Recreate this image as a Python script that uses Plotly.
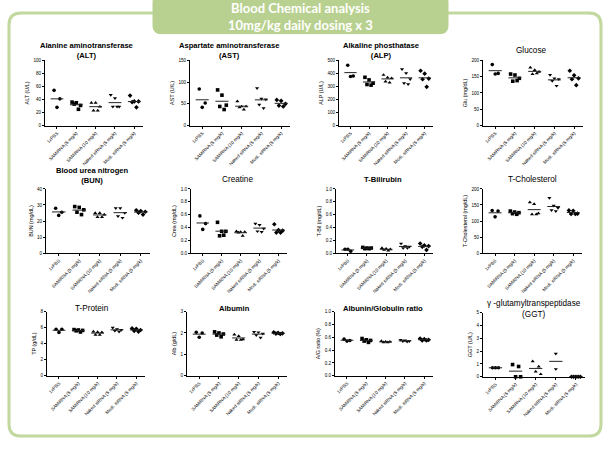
import plotly.graph_objects as go
import numpy as np

W, H = 610, 449

groups = ["1xPBS", "SAMiRNA (5 mg/k)", "SAMiRNA (10 mg/k)", "Naked siRNA (5 mg/k)", "Modi. siRNA (5 mg/k)"]

alt = [[54, 41, 28], [36, 35, 31, 33, 25], [35, 35, 29, 23, 23], [47, 42, 29, 29, 29], [46, 37, 37, 36, 28]]
ast = [[84, 52, 42], [82, 70, 47, 44, 37], [56, 44, 44, 42, 37], [86, 62, 60, 48, 40], [59, 57, 50, 46, 44]]
alp = [[462, 380, 376], [370, 350, 325, 315, 310], [388, 368, 363, 338, 330], [432, 401, 355, 325, 317], [420, 398, 360, 355, 297]]
glu = [[187, 160, 158], [158, 155, 145, 136, 138], [178, 170, 165, 158, 160], [155, 145, 142, 137, 122], [168, 154, 145, 142, 124]]
bun = [[28, 25.5, 23.5], [29, 28.5, 27, 25.5, 24], [25, 25, 24, 22.5, 22.5], [28, 28, 25, 23, 22], [26.7, 26.2, 25.8, 25.2, 24]]
crea = [[0.58, 0.46, 0.37], [0.48, 0.34, 0.34, 0.27, 0.28], [0.34, 0.33, 0.33, 0.32, 0.27], [0.46, 0.44, 0.38, 0.34, 0.33], [0.45, 0.36, 0.35, 0.32, 0.32]]
tbil = [[0.06, 0.03, 0.06], [0.09, 0.08, 0.08, 0.07, 0.07], [0.08, 0.07, 0.06, 0.05, 0.04], [0.15, 0.11, 0.10, 0.08, 0.08], [0.15, 0.12, 0.11, 0.10, 0.05]]
tchol = [[133, 131, 113], [131, 128, 126, 123, 121], [158, 153, 124, 121, 121], [172, 148, 141, 134, 131], [133, 132, 123, 122, 122]]
tp = [[5.8, 5.8, 5.4], [5.75, 5.7, 5.65, 5.6, 5.45], [5.5, 5.45, 5.4, 5.1, 5.1], [6.0, 5.8, 5.7, 5.6, 5.5], [5.9, 5.85, 5.7, 5.6, 5.5]]
alb = [[2.03, 2.0, 1.8], [2.05, 2.0, 1.95, 1.9, 1.82], [1.92, 1.85, 1.7, 1.68, 1.68], [2.05, 2.03, 1.97, 1.9, 1.78], [2.03, 2.0, 1.98, 1.97, 1.95]]
agr = [[0.57, 0.55, 0.54], [0.58, 0.56, 0.55, 0.54, 0.52], [0.54, 0.53, 0.53, 0.52, 0.52], [0.56, 0.55, 0.54, 0.54, 0.53], [0.58, 0.57, 0.56, 0.55, 0.55]]
ggt = [[0.7, 0.7, 0.7], [0.95, 0.8, 0, 0], [1.2, 0.8, 0.4, 0.2], [1.8, 0.6], [0, 0, 0, 0, 0]]

titles = ["Alanine aminotransferase<br>(ALT)", "Aspartate aminotransferase<br>(AST)", "Alkaline phosthatase<br>(ALP)", "Glucose",
          "Blood urea nitrogen<br>(BUN)", "Creatine", "T-Bilirubin", "T-Cholesterol",
          "T-Protein", "Albumin", "Albunin/Globulin ratio", "γ -glutamyltranspeptidase<br>(GGT)"]
ylabels = ["ALT (U/L)", "AST (U/L)", "ALP (U/L)", "Glu (mg/dL)",
           "BUN (mg/dL)", "Crea (mg/dL)", "T-Bil (mg/dL)", "T-Cholesterol (mg/dL)",
           "TP (g/dL)", "Alb (g/dL)", "A/G ratio (%)", "GGT (U/L)"]
datasets = [alt, ast, alp, glu, bun, crea, tbil, tchol, tp, alb, agr, ggt]
yranges = [100, 150, 500, 200, 40, 1.0, 1.0, 200, 8, 3, 1.0, 5]
dticks = [20, 50, 100, 50, 10, 0.2, 0.2, 50, 2, 1, 0.2, 1]
tfmts = ["d", "d", "d", "d", "d", ".1f", ".1f", "d", "d", "d", ".1f", "d"]
bold = [True, True, True, False, True, False, True, False, False, True, True, False]

# layout in reference pixels: (x0, x1, ybottom, ytop, title_x, title_y)
geo = [
    (45, 143, 125, 59, 86, 49), (190, 290, 125, 59, 229, 49), (339, 433, 125, 59, 381, 49), (483, 583, 125, 59, 531, 49),
    (46, 150, 254, 189, 92, 175), (191, 287, 254, 189, 237, 180), (336, 433, 254, 189, 383, 180), (483, 582, 254, 189, 532, 180),
    (47, 145, 378, 313, 92, 310), (187, 287, 378, 313, 234, 310), (335, 433, 378, 313, 383, 310), (483, 585, 379, 314, 534, 310),
]

symbols = ["circle", "square", "triangle-up", "triangle-down", "diamond"]
offs = {1: [0.0], 2: [0.0, 0.0], 3: [-0.15, 0.15, 0.0], 4: [-0.15, 0.15, 0.0, 0.25],
        5: [-0.22, 0.0, 0.22, -0.11, 0.11]}


def px(x):
    return x / W


def py(y):
    return 1 - y / H


fig = go.Figure()
annotations = []
for i, (data, geo_i) in enumerate(zip(datasets, geo)):
    k = i + 1
    xa = "x" if k == 1 else f"x{k}"
    ya = "y" if k == 1 else f"y{k}"
    for g, vals in enumerate(data):
        n = len(vals)
        xs = [g + o for o in offs[n]]
        fig.add_trace(go.Scatter(x=xs, y=vals, mode="markers", xaxis=xa, yaxis=ya,
                                 marker=dict(symbol=symbols[g], size=3.6, color="black"),
                                 showlegend=False, hoverinfo="skip", cliponaxis=False))
        m = float(np.mean(vals))
        fig.add_trace(go.Scatter(x=[g - 0.33, g + 0.33], y=[m, m], mode="lines", xaxis=xa, yaxis=ya,
                                 line=dict(color="#222222", width=1), showlegend=False, hoverinfo="skip"))
    x0, x1, yb, yt, tx, ty = geo_i
    axn = "" if k == 1 else str(k)
    fig.layout["xaxis" + axn] = dict(
        domain=[px(x0), px(x1)], range=[-0.62, 4.45], anchor=ya,
        tickmode="array", tickvals=list(range(5)), ticktext=groups, tickangle=-45,
        tickfont=dict(size=4.6, family="Liberation Sans", color="black"),
        showline=True, linecolor="black", linewidth=1.2, ticks="outside", ticklen=2,
        tickcolor="black", showgrid=False, zeroline=False, fixedrange=True)
    fig.layout["yaxis" + axn] = dict(
        domain=[py(yb), py(yt)], range=[0, yranges[i]], anchor=xa,
        tick0=0, dtick=dticks[i], tickformat=tfmts[i],
        tickfont=dict(size=4.6, family="Liberation Sans", color="black"),
        title=dict(text=ylabels[i], font=dict(size=5.4, family="Liberation Sans", color="black"), standoff=3),
        showline=True, linecolor="black", linewidth=1, ticks="outside", ticklen=2,
        tickcolor="black", showgrid=False, zeroline=False, fixedrange=True)
    t = titles[i]
    if bold[i]:
        t = "<b>" + t.replace("<br>", "</b><br><b>") + "</b>"
    annotations.append(dict(text=t, x=px(tx), y=py(ty), xref="paper", yref="paper",
                            xanchor="center", yanchor="middle", showarrow=False,
                            font=dict(size=7.6 if bold[i] else 8.2, family="Liberation Sans", color="black")))


def rrect(x0, y0, x1, y1, r):
    p = []
    p.append(f"M {px(x0 + r)} {py(y0)}")
    p.append(f"L {px(x1 - r)} {py(y0)}")
    p.append(f"Q {px(x1)} {py(y0)} {px(x1)} {py(y0 + r)}")
    p.append(f"L {px(x1)} {py(y1 - r)}")
    p.append(f"Q {px(x1)} {py(y1)} {px(x1 - r)} {py(y1)}")
    p.append(f"L {px(x0 + r)} {py(y1)}")
    p.append(f"Q {px(x0)} {py(y1)} {px(x0)} {py(y1 - r)}")
    p.append(f"L {px(x0)} {py(y0 + r)}")
    p.append(f"Q {px(x0)} {py(y0)} {px(x0 + r)} {py(y0)}")
    p.append("Z")
    return " ".join(p)


shapes = [
    dict(type="path", path=rrect(9, 11, 601, 439, 12), xref="paper", yref="paper",
         line=dict(color="#c2d89e", width=3), fillcolor="rgba(0,0,0,0)", layer="below"),
    dict(type="path", path=rrect(153, -8, 448, 32, 8), xref="paper", yref="paper",
         line=dict(color="#b9d190", width=1), fillcolor="#b9d190", layer="below"),
]
annotations.append(dict(text="<b>Blood Chemical analysis</b><br><b>10mg/kg daily dosing x 3</b>",
                        x=px(300), y=py(15), xref="paper", yref="paper", xanchor="center", yanchor="middle",
                        showarrow=False, font=dict(size=13, family="Lato", color="white")))

fig.update_layout(width=W, height=H, autosize=False, margin=dict(l=0, r=0, t=0, b=0),
                  paper_bgcolor="white", plot_bgcolor="white", shapes=shapes, annotations=annotations,
                  showlegend=False)
fig.write_html("out.html", config={"displayModeBar": False},
               post_script="document.body.style.margin='0';")
